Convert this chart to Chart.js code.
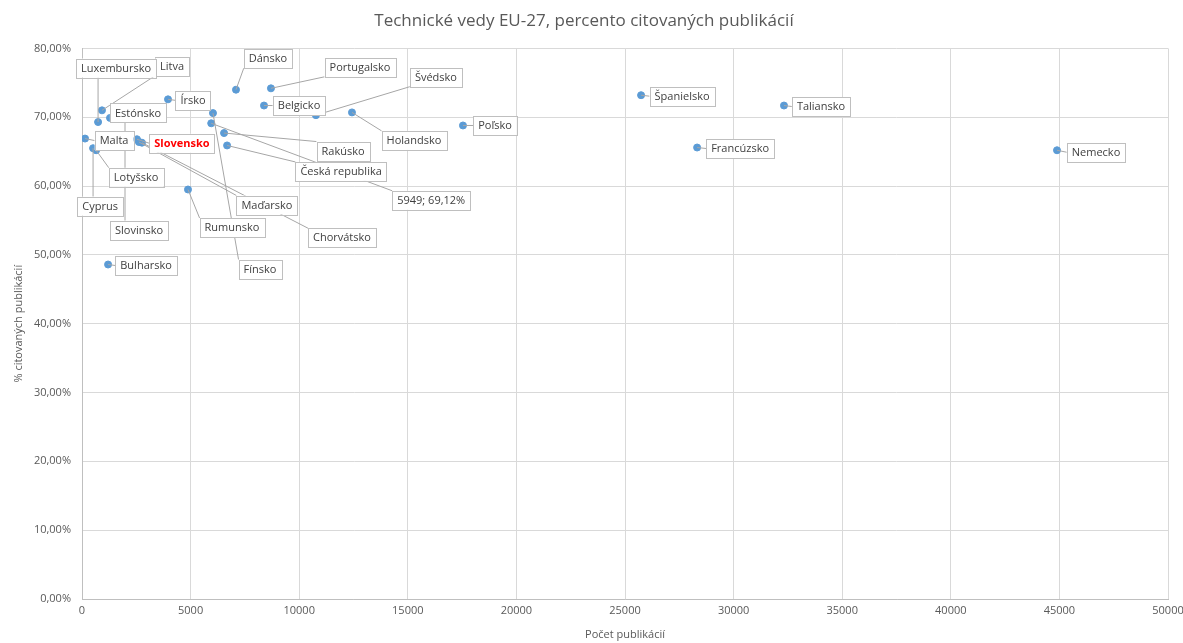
<!DOCTYPE html>
<html><head><meta charset="utf-8">
<script src="https://cdn.jsdelivr.net/npm/chart.js@4.4.0/dist/chart.umd.min.js"></script>
<style>html,body{margin:0;padding:0;background:#fff;}#wrap{width:1183px;height:643px;}</style>
</head><body><div id="wrap"><canvas id="c" width="1183" height="643"></canvas></div>
<script>
const countries = ["Belgicko","Bulharsko","Česká republika","Dánsko","Nemecko","Estónsko","Írsko","Grécko","Španielsko","Francúzsko","Chorvátsko","Taliansko","Cyprus","Lotyšsko","Litva","Luxembursko","Maďarsko","Malta","Holandsko","Rakúsko","Poľsko","Portugalsko","Rumunsko","Slovinsko","Slovensko","Fínsko","Švédsko"];
const publications = [8380,1200,6680,7090,44890,1290,3960,5949,25740,28320,2760,32320,510,650,920,740,2620,140,12430,6540,17540,8700,4880,1980,2530,6030,10770];
const citedPct = [71.7,48.6,65.9,74.0,65.2,69.9,72.6,69.12,73.2,65.6,66.3,71.7,65.5,65.2,71.0,69.3,66.4,66.9,70.7,67.7,68.8,74.2,59.5,70.0,66.8,70.6,70.3];
const shownLabels = ["Belgicko","Bulharsko","Česká republika","Dánsko","Nemecko","Estónsko","Írsko","5949; 69,12%","Španielsko","Francúzsko","Chorvátsko","Taliansko","Cyprus","Lotyšsko","Litva","Luxembursko","Maďarsko","Malta","Holandsko","Rakúsko","Poľsko","Portugalsko","Rumunsko","Slovinsko","Slovensko","Fínsko","Švédsko"];
const xTicks = [0,5000,10000,15000,20000,25000,30000,35000,40000,45000,50000];
const yTicks = [0,10,20,30,40,50,60,70,80];
const highlight = "Slovensko";

// label placement (pixel offsets of label centre from its point) – layout only
const labelOffsets = {
 "Belgicko":[35,0],"Bulharsko":[38,1],"Česká republika":[114,26],"Dánsko":[32,-31],"Nemecko":[39,2],
 "Estónsko":[28,-5],"Írsko":[25,1],"Grécko":[220,77],"Španielsko":[41,1],"Francúzsko":[43,1],
 "Chorvátsko":[200,95],"Taliansko":[37,1],"Cyprus":[7,58],"Lotyšsko":[40,27],"Litva":[70,-44],
 "Luxembursko":[18,-54],"Maďarsko":[128,63],"Malta":[29,2],"Holandsko":[62,28],"Rakúsko":[119,18],
 "Poľsko":[32,0],"Portugalsko":[89,-21],"Rumunsko":[44,38],"Slovinsko":[14,113],"Slovensko":[45,4],
 "Fínsko":[47,156],"Švédsko":[120,-38]
};

const FONT = "'Open Sans', 'DejaVu Sans', sans-serif";
const points = publications.map((x,i)=>({x:x,y:citedPct[i]}));

const labelPlugin = {
  id:'boxLabels',
  afterDatasetsDraw(chart){
    const ctx = chart.ctx;
    const meta = chart.getDatasetMeta(0);
    const boxes = [];
    ctx.save();
    meta.data.forEach((el,i)=>{
      const name = countries[i];
      const txt = shownLabels[i];
      const bold = name===highlight;
      ctx.font = (bold?'bold ':'') + '11px ' + FONT;
      const tw = ctx.measureText(txt).width;
      const w = tw + 10, h = 19;
      const off = labelOffsets[name]||[30,0];
      const cx = el.x + off[0], cy = el.y + off[1];
      boxes.push({x:cx-w/2,y:cy-h/2,w,h,cx,cy,txt,bold,px:el.x,py:el.y});
    });
    ctx.strokeStyle = '#a6a6a6';
    ctx.lineWidth = 1;
    boxes.forEach(b=>{
      if (b.px >= b.x && b.px <= b.x+b.w && b.py>=b.y && b.py<=b.y+b.h) return;
      const qx = Math.max(b.x, Math.min(b.px, b.x+b.w));
      const qy = Math.max(b.y, Math.min(b.py, b.y+b.h));
      let ax = b.px < b.x ? b.x : (b.px > b.x+b.w ? b.x+b.w : qx);
      let ay = b.py < b.y ? b.y : (b.py > b.y+b.h ? b.y+b.h : qy);
      if (ax===b.x || ax===b.x+b.w) { if (ay!==b.y && ay!==b.y+b.h) ay = Math.max(b.y+4, Math.min(b.cy, b.y+b.h-4)); }
      ctx.beginPath();
      ctx.moveTo(b.px, b.py);
      ctx.lineTo(ax, ay);
      ctx.stroke();
    });
    boxes.forEach(b=>{
      ctx.fillStyle = '#ffffff';
      ctx.fillRect(b.x, b.y, b.w, b.h);
      ctx.strokeStyle = '#bfbfbf';
      ctx.lineWidth = 1;
      ctx.strokeRect(Math.round(b.x)+0.5, Math.round(b.y)+0.5, Math.round(b.w), Math.round(b.h));
      ctx.font = (b.bold?'bold ':'') + '11px ' + FONT;
      ctx.fillStyle = b.bold ? '#ff0000' : '#404040';
      ctx.textAlign = 'center';
      ctx.textBaseline = 'middle';
      ctx.fillText(b.txt, b.cx, b.cy+0.5);
    });
    ctx.restore();
  }
};

new Chart(document.getElementById('c'), {
  type:'scatter',
  data:{datasets:[{data:points,backgroundColor:'#5b9bd5',borderColor:'#5b9bd5',pointRadius:3.5,pointHoverRadius:3.5}]},
  options:{
    responsive:false,animation:false,
    layout:{padding:{left:0,right:15,top:0,bottom:0}},
    plugins:{
      legend:{display:false},tooltip:{enabled:false},
      title:{display:true,text:'Technické vedy EU-27, percento citovaných publikácií',color:'#595959',
        font:{family:FONT,size:17,weight:'normal'},padding:{top:11,bottom:17}}
    },
    scales:{
      x:{type:'linear',min:0,max:50000,
        afterBuildTicks(s){s.ticks = xTicks.map(v=>({value:v}));},
        afterFit(s){s.height = 44; s.paddingRight = 0; s.paddingLeft = 0;},
        ticks:{color:'#595959',font:{family:FONT,size:11},padding:5,maxRotation:0,callback:v=>String(v)},
        grid:{color:'#d9d9d9',drawTicks:false},border:{color:'#bfbfbf'},
        title:{display:true,text:'Počet publikácií',color:'#595959',font:{family:FONT,size:11},padding:{top:2,bottom:2}}
      },
      y:{type:'linear',min:0,max:80,
        afterBuildTicks(s){s.ticks = yTicks.map(v=>({value:v}));},
        afterFit(s){s.width = 82;},
        ticks:{color:'#595959',font:{family:FONT,size:11},padding:11,callback:v=>v.toFixed(2).replace('.',',')+'%'},
        grid:{color:'#d9d9d9',drawTicks:false},border:{color:'#bfbfbf'},
        title:{display:true,text:'% citovaných publikácií',color:'#595959',font:{family:FONT,size:11},padding:{top:12,bottom:0}}
      }
    }
  },
  plugins:[labelPlugin]
});
</script></body></html>
